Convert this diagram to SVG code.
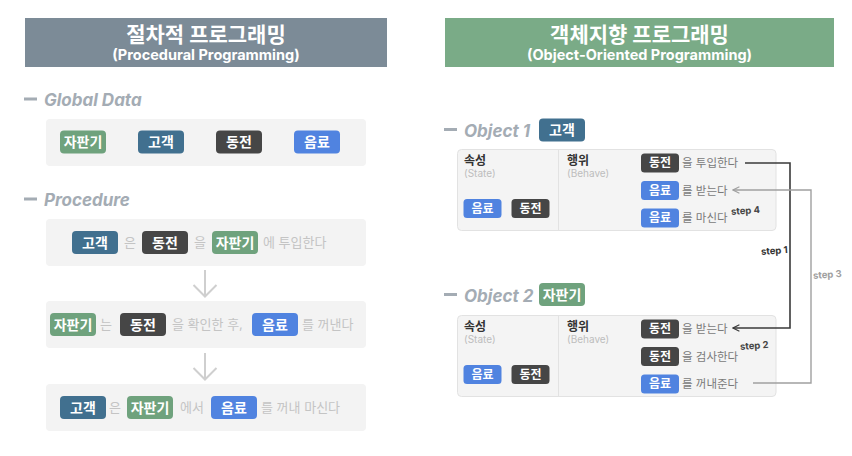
<svg xmlns="http://www.w3.org/2000/svg" width="852" height="456" viewBox="0 0 852 456">
<defs>
<style>
text{font-family:"Inter","Noto Sans CJK KR","Noto Sans",sans-serif;}
.ttl{fill:#fff;font-weight:700;font-size:21px;text-anchor:middle;}
.sub{fill:#fff;font-weight:700;font-size:14.5px;text-anchor:middle;}
.sec{fill:#a4acb4;font-weight:700;font-style:italic;font-size:17px;}
.dash{fill:#a4acb4;}
.panel{fill:#f3f3f3;}
.obox{fill:#f4f4f4;stroke:#e2e2e2;stroke-width:1;}
.tg{fill:#fff;font-weight:700;font-size:14px;text-anchor:middle;}
.ts{fill:#fff;font-weight:700;font-size:12px;text-anchor:middle;}
.g{fill:#6fa27d;}
.c{fill:#41708f;}
.d{fill:#464646;}
.b{fill:#5083e0;}
.pt{fill:#c4c4c4;font-size:13px;}
.bt{fill:#7a7a7a;font-size:11.5px;}
.lb{fill:#333;font-weight:700;font-size:12px;}
.lbs{fill:#bdbdbd;font-size:10px;}
.st{font-weight:700;font-size:9.5px;}
</style>
<marker id="ah" viewBox="0 0 10 10" refX="9" refY="5" markerWidth="8" markerHeight="8" orient="auto" markerUnits="userSpaceOnUse">
<path d="M1,1 L9,5 L1,9" fill="none" stroke="context-stroke" stroke-width="1.4"/>
</marker>
</defs>
<rect width="852" height="456" fill="#fff"/>

<g id="header-left">
<rect x="25" y="18" width="362" height="49" fill="#7c8b97"/>
<text class="ttl" x="206" y="42">절차적 프로그래밍</text>
<text class="sub" x="206" y="60">(Procedural Programming)</text>
</g>
<g id="header-right">
<rect x="445" y="18" width="389" height="49" fill="#7aab87"/>
<text class="ttl" x="639.5" y="42">객체지향 프로그래밍</text>
<text class="sub" x="639.5" y="60">(Object-Oriented Programming)</text>
</g>

<g id="global-data">
<rect class="dash" x="24" y="97.5" width="13" height="3"/>
<text class="sec" x="44" y="106">Global Data</text>
<rect class="panel" x="46" y="119" width="320" height="47" rx="4"/>
<rect class="g" x="60" y="130.5" width="46" height="23" rx="4"/><text class="tg" x="83" y="147">자판기</text>
<rect class="c" x="138" y="130.5" width="46" height="23" rx="4"/><text class="tg" x="161" y="147">고객</text>
<rect class="d" x="216" y="130.5" width="46" height="23" rx="4"/><text class="tg" x="239" y="147">동전</text>
<rect class="b" x="294" y="130.5" width="46" height="23" rx="4"/><text class="tg" x="317" y="147">음료</text>
</g>

<g id="procedure-title">
<rect class="dash" x="24" y="197.5" width="13" height="3"/>
<text class="sec" x="44" y="206">Procedure</text>
</g>

<g id="proc-1">
<rect class="panel" x="46" y="219" width="320" height="47" rx="4"/>
<rect class="c" x="72" y="231" width="46" height="23" rx="4"/><text class="tg" x="95" y="247.5">고객</text>
<text class="pt" x="124" y="247">은</text>
<rect class="d" x="142" y="231" width="46" height="23" rx="4"/><text class="tg" x="165" y="247.5">동전</text>
<text class="pt" x="194" y="247">을</text>
<rect class="g" x="212" y="231" width="46" height="23" rx="4"/><text class="tg" x="235" y="247.5">자판기</text>
<text class="pt" x="263" y="247">에 투입한다</text>
</g>

<g id="proc-2">
<rect class="panel" x="46" y="301" width="320" height="47" rx="4"/>
<rect class="g" x="50" y="313" width="46" height="23" rx="4"/><text class="tg" x="73" y="329.5">자판기</text>
<text class="pt" x="100" y="329">는</text>
<rect class="d" x="120" y="313" width="46" height="23" rx="4"/><text class="tg" x="143" y="329.5">동전</text>
<text class="pt" x="172" y="329">을 확인한 후,</text>
<rect class="b" x="252" y="313" width="46" height="23" rx="4"/><text class="tg" x="275" y="329.5">음료</text>
<text class="pt" x="302" y="329">를 꺼낸다</text>
</g>

<g id="proc-3">
<rect class="panel" x="46" y="384" width="320" height="47" rx="4"/>
<rect class="c" x="60" y="396" width="46" height="23" rx="4"/><text class="tg" x="83" y="412.5">고객</text>
<text class="pt" x="109" y="412">은</text>
<rect class="g" x="127" y="396" width="46" height="23" rx="4"/><text class="tg" x="150" y="412.5">자판기</text>
<text class="pt" x="180" y="412">에서</text>
<rect class="b" x="211" y="396" width="46" height="23" rx="4"/><text class="tg" x="234" y="412.5">음료</text>
<text class="pt" x="261" y="412">를 꺼내 마신다</text>
</g>

<g id="object-1">
<rect class="dash" x="444" y="128" width="13" height="3"/>
<text class="sec" x="464" y="136.5">Object 1</text>
<rect class="c" x="539" y="118.5" width="46" height="23" rx="4"/><text class="tg" x="562" y="135">고객</text>
<rect class="obox" x="457.5" y="149.5" width="318.5" height="81" rx="4"/>
<line x1="558.5" y1="150" x2="558.5" y2="230" stroke="#e2e2e2"/>
<text class="lb" x="464" y="165">속성</text>
<text class="lbs" x="464" y="177">(State)</text>
<text class="lb" x="567" y="165">행위</text>
<text class="lbs" x="567" y="177">(Behave)</text>
<rect class="b" x="463.5" y="199" width="38" height="19" rx="3.5"/><text class="ts" x="482.5" y="212.8">음료</text>
<rect class="d" x="511.5" y="199" width="38" height="19" rx="3.5"/><text class="ts" x="530.5" y="212.8">동전</text>
<rect class="d" x="641" y="153.5" width="38" height="19" rx="3.5"/><text class="ts" x="660" y="167.3">동전</text>
<text class="bt" x="682" y="167">을 투입한다</text>
<rect class="b" x="641" y="181" width="38" height="19" rx="3.5"/><text class="ts" x="660" y="194.8">음료</text>
<text class="bt" x="682" y="194.5">를 받는다</text>
<rect class="b" x="641" y="208.5" width="38" height="19" rx="3.5"/><text class="ts" x="660" y="222.3">음료</text>
<text class="bt" x="682" y="222">를 마신다</text>
</g>

<g id="object-2">
<rect class="dash" x="444" y="293" width="13" height="3"/>
<text class="sec" x="464" y="301.5">Object 2</text>
<rect class="g" x="539" y="283" width="46" height="23" rx="4"/><text class="tg" x="562" y="299.5">자판기</text>
<rect class="obox" x="457.5" y="315.5" width="318.5" height="81" rx="4"/>
<line x1="558.5" y1="316" x2="558.5" y2="396" stroke="#e2e2e2"/>
<text class="lb" x="464" y="331">속성</text>
<text class="lbs" x="464" y="343">(State)</text>
<text class="lb" x="567" y="331">행위</text>
<text class="lbs" x="567" y="343">(Behave)</text>
<rect class="b" x="463.5" y="365" width="38" height="19" rx="3.5"/><text class="ts" x="482.5" y="378.8">음료</text>
<rect class="d" x="511.5" y="365" width="38" height="19" rx="3.5"/><text class="ts" x="530.5" y="378.8">동전</text>
<rect class="d" x="641" y="319.5" width="38" height="19" rx="3.5"/><text class="ts" x="660" y="333.3">동전</text>
<text class="bt" x="682" y="333">을 받는다</text>
<rect class="d" x="641" y="347" width="38" height="19" rx="3.5"/><text class="ts" x="660" y="360.8">동전</text>
<text class="bt" x="682" y="360.5">을 검사한다</text>
<rect class="b" x="641" y="374.5" width="38" height="19" rx="3.5"/><text class="ts" x="660" y="388.3">음료</text>
<text class="bt" x="682" y="388">를 꺼내준다</text>
</g>

<g id="connectors">
<g fill="none" stroke="#cfcfcf" stroke-width="2">
<path d="M205,270 V296 M193.5,285 L205,296.5 L216.5,285"/>
<path d="M205,353 V379 M193.5,368 L205,379.5 L216.5,368"/>
</g>
<path d="M745,163 H790 V328 H733" fill="none" stroke="#3a3a3a" stroke-width="1.6" marker-end="url(#ah)"/>
<path d="M753,383 H811 V190 H733" fill="none" stroke="#a0a0a0" stroke-width="1.4" marker-end="url(#ah)"/>
<text class="st" x="761" y="254" fill="#333" transform="rotate(-4 774 251)">step 1</text>
<text class="st" x="813" y="278" fill="#a0a0a0" transform="rotate(-4 826 275)">step 3</text>
<text class="st" x="731" y="214" fill="#444" transform="rotate(-4 744 211)">step 4</text>
<text class="st" x="740" y="349" fill="#444" transform="rotate(-4 753 346)">step 2</text>
</g>
</svg>
